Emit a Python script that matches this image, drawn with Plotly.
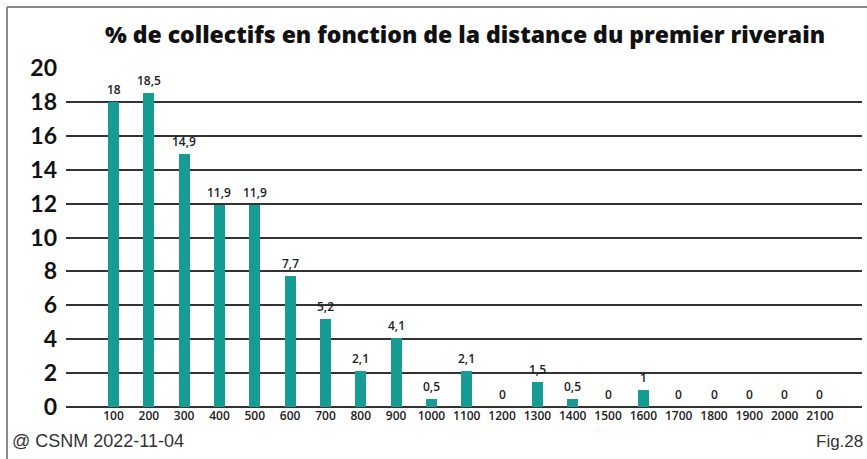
import plotly.graph_objects as go

distances = [100, 200, 300, 400, 500, 600, 700, 800, 900, 1000, 1100,
             1200, 1300, 1400, 1500, 1600, 1700, 1800, 1900, 2000, 2100]
percent = [18, 18.5, 14.9, 11.9, 11.9, 7.7, 5.2, 2.1, 4.1, 0.5, 2.1,
           0, 1.5, 0.5, 0, 1, 0, 0, 0, 0, 0]
value_labels = ["18", "18,5", "14,9", "11,9", "11,9", "7,7", "5,2", "2,1", "4,1", "0,5", "2,1",
                "0", "1,5", "0,5", "0", "1", "0", "0", "0", "0", "0"]
y_ticks = [0, 2, 4, 6, 8, 10, 12, 14, 16, 18, 20]
x_tick_labels = [str(d) for d in distances]

W, H = 867, 459
L, R, T, B = 66, 5, 68, 52
pw = W - L - R
ph = H - T - B

def px_x(p):
    return (p - L) / pw

def px_y(p):
    return (H - B - p) / ph

fig = go.Figure()
fig.add_trace(go.Bar(
    x=distances, y=percent, width=31,
    marker=dict(color="#179c94", line=dict(width=0)),
    hoverinfo="skip",
))

for xv, yv, lab in zip(distances, percent, value_labels):
    fig.add_annotation(x=xv, y=yv, text=lab, showarrow=False,
                       xanchor="center", yanchor="bottom", yshift=2,
                       font=dict(family="Open Sans", size=12, color="#222", weight=600))

fig.update_layout(
    width=W, height=H,
    margin=dict(l=L, r=R, t=T, b=B),
    paper_bgcolor="white", plot_bgcolor="white",
    showlegend=False,
    title=dict(text="% de collectifs en fonction de la distance du premier riverain",
               x=px_x(465), xref="paper", xanchor="center",
               y=1 - 35 / H, yanchor="middle",
               font=dict(family="Open Sans", size=23, color="#111", weight=800)),
    xaxis=dict(range=[-34.5, 2219], tickmode="array", tickvals=distances,
               ticktext=x_tick_labels, showgrid=False, zeroline=False,
               showline=False, ticks="",
               tickfont=dict(family="Open Sans", size=12, color="#222", weight=600)),
    yaxis=dict(range=[0, 20], tickmode="array", tickvals=y_ticks,
               ticktext=[str(v) for v in y_ticks],
               showgrid=True, gridcolor="#333", gridwidth=2,
               zeroline=True, zerolinecolor="#333", zerolinewidth=2,
               showline=False, ticks="", ticklabelstandoff=8,
               tickfont=dict(family="Lato", size=23, color="#111", weight=700)),
    bargap=0,
)

# outer frame (top and left edges)
fig.add_shape(type="line", xref="paper", yref="paper",
              x0=px_x(7), y0=px_y(459), x1=px_x(7), y1=px_y(7),
              line=dict(color="#8a8a8a", width=2))
fig.add_shape(type="line", xref="paper", yref="paper",
              x0=px_x(7), y0=px_y(7), x1=px_x(867), y1=px_y(7),
              line=dict(color="#8a8a8a", width=2))

fig.add_annotation(text="@ CSNM 2022-11-04", xref="paper", yref="paper",
                   x=px_x(10), y=px_y(441), xanchor="left", yanchor="middle",
                   showarrow=False,
                   font=dict(family="Liberation Sans", size=18, color="#333"))
fig.add_annotation(text="Fig.28", xref="paper", yref="paper",
                   x=px_x(865), y=px_y(441), xanchor="right", yanchor="middle",
                   showarrow=False,
                   font=dict(family="Liberation Sans", size=17, color="#333"))

fig.write_html("out.html", config={"displayModeBar": False},
               post_script="document.body.style.margin='0';document.body.style.overflow='hidden';")
